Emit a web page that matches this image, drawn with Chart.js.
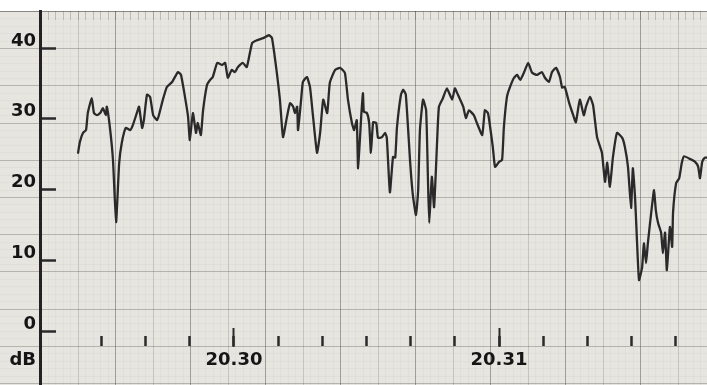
<!DOCTYPE html>
<html>
<head>
<meta charset="utf-8">
<title>Level recording</title>
<script src="https://cdn.jsdelivr.net/npm/chart.js@4/dist/chart.umd.min.js"></script>
<style>
  html, body { margin: 0; padding: 0; background: #fff; }
</style>
</head>
<body>
<canvas id="levelChart" width="707" height="385"></canvas>
<script>
// seconds after 20.29.00
const seconds = [
  24.7, 25.1, 25.8, 26.5, 26.9, 27.8, 28.3, 29.0, 29.7, 30.3, 31.0, 31.2, 31.9, 32.6, 33.3, 34.0,
  34.6, 35.5, 36.5, 37.1, 38.0, 38.5, 39.2, 39.6, 40.3, 41.0, 41.7, 42.6, 43.0, 43.9, 44.8, 46.0,
  47.3, 48.0, 48.9, 49.6, 50.0, 50.7, 51.4, 51.8, 52.5, 53.0, 53.9, 54.6, 55.2, 56.2, 57.3, 58.0,
  58.6, 59.5, 60.2, 60.9, 62.0, 62.9, 64.1, 65.2, 66.6, 67.9, 68.6, 69.7, 70.4, 71.1, 72.0, 72.7,
  73.4, 73.8, 74.3, 74.5, 75.2, 75.6, 76.5, 77.2, 77.9, 78.8, 79.5, 80.2, 81.1, 81.7, 82.9, 84.0,
  85.1, 85.8, 86.7, 87.2, 87.8, 88.1, 88.8, 89.2, 89.4, 90.1, 90.6, 91.0, 91.5, 92.2, 92.6, 93.5,
  94.2, 94.6, 95.3, 96.0, 96.5, 96.9, 97.8, 98.3, 98.9, 99.9, 100.5, 101.2, 101.7, 102.1, 102.8, 103.5,
  103.9, 104.2, 104.8, 105.3, 106.0, 106.4, 107.3, 108.2, 109.4, 110.0, 110.7, 111.9, 112.5, 113.2, 114.3, 115.0,
  116.2, 116.8, 117.5, 118.0, 118.6, 119.1, 120.0, 120.7, 121.1, 121.8, 122.5, 123.4, 124.1, 124.8, 125.7, 126.6,
  127.5, 128.6, 129.7, 130.4, 131.3, 132.0, 132.9, 133.8, 134.3, 134.9, 135.9, 136.8, 137.4, 138.3, 139.2, 139.7,
  140.6, 141.3, 142.2, 143.3, 144.0, 144.5, 145.1, 145.8, 146.7, 147.9, 148.5, 149.2, 149.9, 150.3, 150.8, 151.2,
  151.7, 152.4, 152.8, 153.3, 153.7, 154.6, 155.1, 155.5, 156.0, 156.7, 157.1, 157.6, 158.0, 158.7, 159.2, 159.4,
  160.1, 160.8, 161.4, 161.9, 163.3, 164.4, 165.1, 165.5, 166.0, 166.6, 167.1
];

// level in dB at each of those times
const levels = [
  25.2, 26.7, 28.0, 28.4, 30.8, 32.9, 30.8, 30.5, 30.8, 31.5, 30.5, 31.7, 28.8, 24.2, 15.4, 23.7,
  26.6, 28.7, 28.4, 29.1, 30.8, 31.7, 28.7, 29.8, 33.4, 33.1, 30.5, 29.8, 30.5, 32.7, 34.5, 35.2,
  36.6, 36.2, 33.1, 30.3, 27.0, 30.8, 28.0, 29.4, 27.7, 31.2, 34.8, 35.5, 35.9, 37.9, 37.6, 37.9,
  35.8, 36.9, 36.6, 37.3, 37.9, 37.3, 40.7, 41.1, 41.4, 41.8, 41.4, 36.5, 32.7, 27.4, 30.3, 32.2,
  31.7, 30.8, 31.7, 28.4, 32.7, 35.2, 35.9, 34.5, 30.3, 25.2, 28.0, 32.7, 30.8, 35.1, 36.9, 37.2,
  36.5, 32.7, 29.4, 28.4, 29.8, 23.0, 30.3, 33.6, 31.0, 30.8, 29.4, 25.2, 29.5, 29.4, 27.3, 27.4,
  28.0, 27.3, 19.6, 24.6, 24.5, 28.8, 33.4, 34.1, 33.4, 23.7, 19.2, 16.4, 19.9, 28.4, 32.7, 31.2,
  21.8, 15.3, 21.8, 17.5, 27.0, 31.7, 32.9, 34.3, 32.7, 34.3, 33.4, 31.7, 30.1, 31.2, 30.5, 29.4,
  27.7, 31.2, 30.8, 28.8, 26.0, 23.2, 23.9, 24.2, 28.8, 33.1, 34.5, 35.8, 36.2, 35.5, 36.6, 37.9,
  36.5, 36.2, 36.6, 35.8, 35.2, 36.6, 37.2, 35.9, 34.4, 34.5, 32.2, 30.5, 29.5, 32.7, 30.5, 31.7,
  33.1, 31.9, 27.4, 25.2, 21.1, 23.8, 20.4, 24.6, 28.0, 27.3, 26.0, 23.2, 17.4, 23.0, 18.9, 13.3,
  7.2, 9.0, 12.4, 9.6, 12.4, 17.5, 19.9, 17.1, 15.3, 13.9, 11.0, 13.9, 8.6, 14.7, 11.9, 16.7,
  20.9, 21.6, 23.8, 24.7, 24.3, 23.9, 23.2, 21.6, 23.9, 24.5, 24.5
];

const dbTicks = [0, 10, 20, 30, 40];
const unitLabel = "dB";
const timeLabels = { 60: "20.30", 120: "20.31" };
const firstTimeMark = 30;

// visible window of the strip
const timeMin = 16.08;
const timeMax = 167.09;
const dbMin = -7.63;
const dbMax = 45.23;

const labelFont = { family: "DejaVu Sans", weight: "bold", size: 18 };
const ink = "#2a2a2a";

// recorder paper: background, ruled grid and the edge ruler
const paperPlugin = {
  id: "paper",
  beforeDraw(chart) {
    const ctx = chart.ctx;
    const top = chart.chartArea.top;
    const left = chart.chartArea.left;
    const w = chart.width;
    const h = chart.height;
    const cellW = 37.5;
    const cellH = 37.2;

    ctx.save();
    ctx.fillStyle = "#ffffff";
    ctx.fillRect(0, 0, w, h);
    ctx.fillStyle = "#e7e5e0";
    ctx.fillRect(0, top, w, h - top);

    ctx.lineWidth = 1;

    // fine lines
    ctx.strokeStyle = "rgba(110,110,100,0.05)";
    ctx.beginPath();
    for (let x = left + cellW / 5; x < w; x += cellW / 5) {
      ctx.moveTo(Math.round(x) + 0.5, top);
      ctx.lineTo(Math.round(x) + 0.5, h);
    }
    for (let y = top + cellH / 5; y < h; y += cellH / 5) {
      ctx.moveTo(0, Math.round(y) + 0.5);
      ctx.lineTo(w, Math.round(y) + 0.5);
    }
    ctx.stroke();

    // horizontal rulings
    ctx.strokeStyle = "rgba(80,80,72,0.30)";
    ctx.beginPath();
    for (let y = top + cellH; y < h; y += cellH) {
      ctx.moveTo(0, Math.round(y) + 0.5);
      ctx.lineTo(w, Math.round(y) + 0.5);
    }
    ctx.stroke();

    // vertical rulings, every second one heavier
    for (let k = 1, x = left + cellW; x < w; k++, x += cellW) {
      ctx.strokeStyle = k % 2 === 0 ? "rgba(60,60,55,0.40)" : "rgba(80,80,72,0.18)";
      ctx.beginPath();
      ctx.moveTo(Math.round(x) + 0.5, top);
      ctx.lineTo(Math.round(x) + 0.5, h);
      ctx.stroke();
    }

    // top edge with small ruler marks
    ctx.strokeStyle = "rgba(60,60,55,0.55)";
    ctx.beginPath();
    ctx.moveTo(0, top + 0.5);
    ctx.lineTo(w, top + 0.5);
    ctx.stroke();
    ctx.strokeStyle = "rgba(60,60,55,0.22)";
    ctx.beginPath();
    for (let x = left + cellW / 5; x < w; x += cellW / 5) {
      ctx.moveTo(Math.round(x) + 0.5, top);
      ctx.lineTo(Math.round(x) + 0.5, top + 9);
    }
    ctx.stroke();
    ctx.restore();
  }
};

new Chart(document.getElementById("levelChart"), {
  type: "line",
  data: {
    datasets: [{
      data: seconds.map((t, i) => ({ x: t, y: levels[i] })),
      borderColor: ink,
      borderWidth: 2.3,
      borderJoinStyle: "round",
      borderCapStyle: "round",
      pointRadius: 0,
      tension: 0.15
    }]
  },
  options: {
    responsive: false,
    animation: false,
    layout: { padding: { top: 11, left: 0, right: 0, bottom: 0 } },
    plugins: {
      legend: { display: false },
      tooltip: { enabled: false }
    },
    scales: {
      x: {
        type: "linear",
        min: timeMin,
        max: timeMax,
        position: { y: -0.71 },
        border: { display: false },
        grid: { drawOnChartArea: false, tickLength: 10, tickWidth: 2.5, tickColor: ink },
        afterBuildTicks: (scale) => {
          scale.ticks = scale.ticks.filter((t) => t.value >= firstTimeMark);
        },
        ticks: {
          stepSize: 10,
          includeBounds: false,
          autoSkip: false,
          maxRotation: 0,
          padding: 3,
          color: "#151515",
          font: labelFont,
          callback: (v) => timeLabels[v] || ""
        }
      },
      xMajor: {
        type: "linear",
        axis: "x",
        min: timeMin,
        max: timeMax,
        position: { y: 0.42 },
        border: { display: false },
        grid: { drawOnChartArea: false, tickLength: 19, tickWidth: 2, tickColor: ink },
        ticks: { display: false, stepSize: 60, includeBounds: false }
      },
      y: {
        type: "linear",
        position: "left",
        min: dbMin,
        max: dbMax,
        border: { display: true, width: 3, color: "#222" },
        grid: { drawOnChartArea: false, drawTicks: false },
        afterBuildTicks: (scale) => {
          scale.ticks = [{ value: -5.09 }].concat(dbTicks.map((v) => ({ value: v })));
        },
        afterFit: (scale) => {
          scale.width = 40;
          scale.paddingTop = 0;
          scale.paddingBottom = 0;
        },
        ticks: {
          autoSkip: false,
          padding: 4,
          labelOffset: -7,
          color: "#151515",
          font: labelFont,
          callback: (v) => (v < 0 ? unitLabel : String(v))
        }
      },
      yTicks: {
        type: "linear",
        axis: "y",
        min: dbMin,
        max: dbMax,
        position: { x: 19.7 },
        border: { display: false },
        grid: { drawOnChartArea: false, tickLength: 16, tickWidth: 2.5, tickColor: ink },
        ticks: { display: false, stepSize: 10, includeBounds: false }
      }
    }
  },
  plugins: [paperPlugin]
});
</script>
</body>
</html>
